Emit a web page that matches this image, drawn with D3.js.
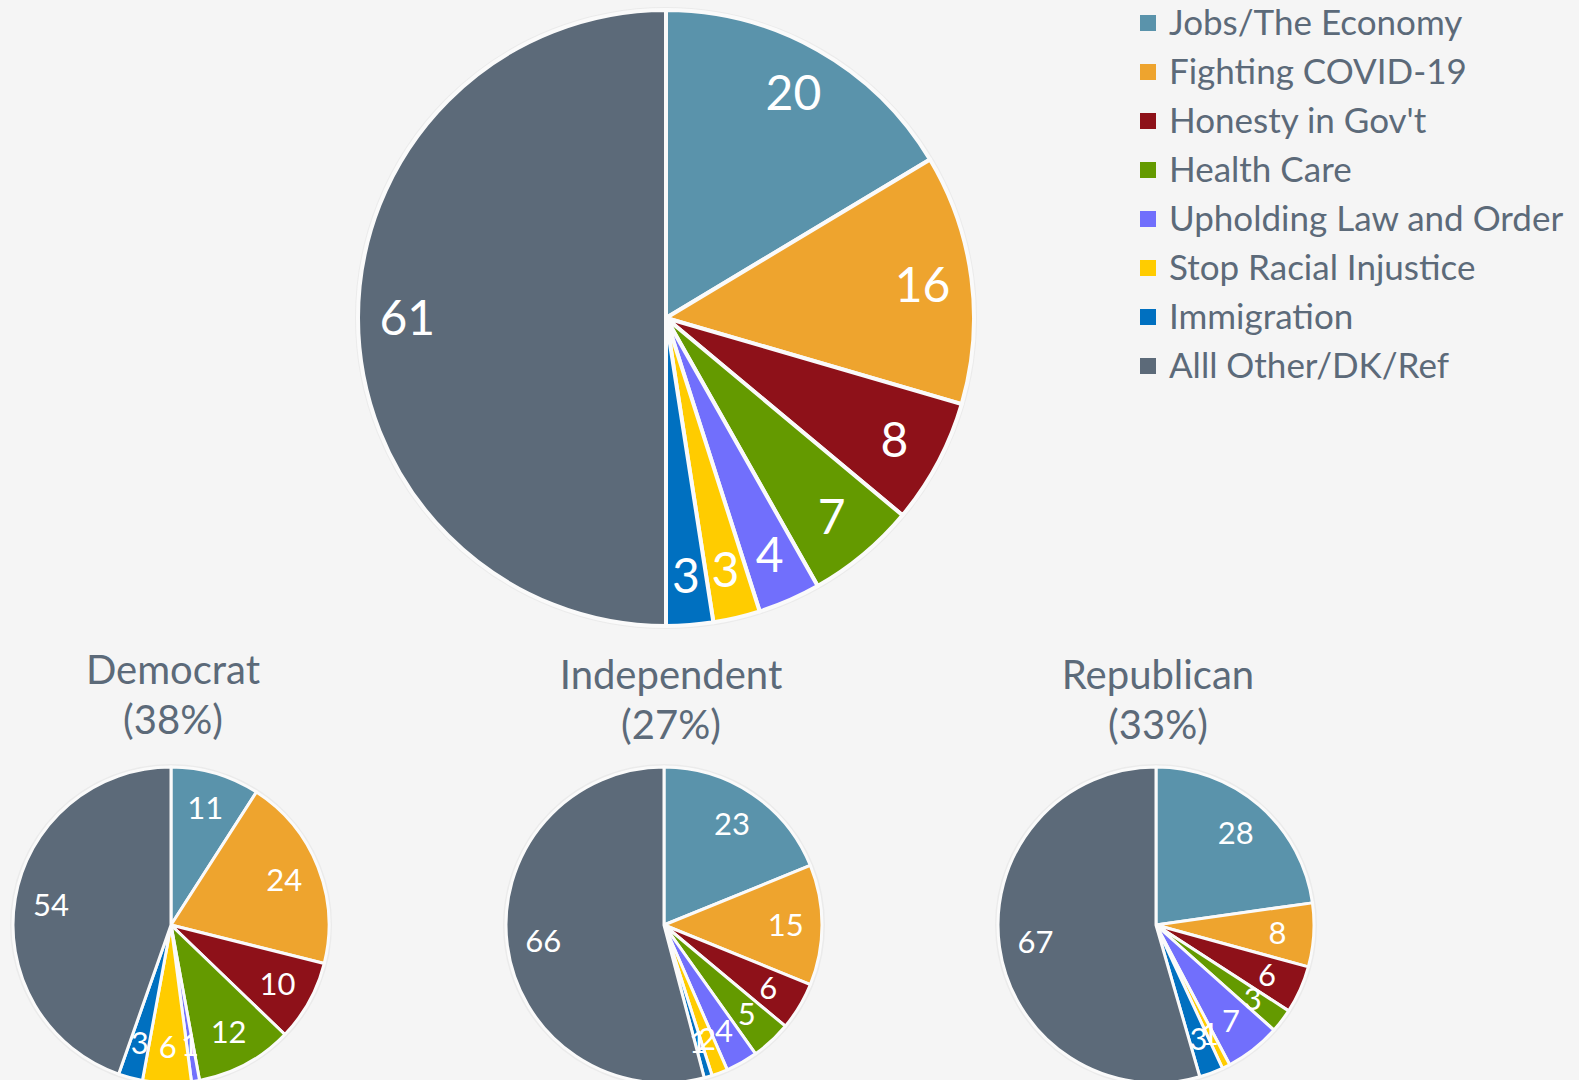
<!DOCTYPE html>
<html>
<head>
<meta charset="utf-8">
<script src="https://cdn.jsdelivr.net/npm/d3@7"></script>
<style>
  body { margin: 0; background: #f5f5f5; }
  svg { display: block; }
  text { font-family: Lato, "Noto Sans", sans-serif; }
</style>
</head>
<body>
<svg id="chart" width="1579" height="1080"></svg>
<script>
// categories and colours
var categories = ["Jobs/The Economy", "Fighting COVID-19", "Honesty in Gov't", "Health Care",
                  "Upholding Law and Order", "Stop Racial Injustice", "Immigration", "Alll Other/DK/Ref"];
var colors = ["#5a93ab", "#eea42e", "#8e1119", "#649a00", "#716ffc", "#ffcc00", "#0070c0", "#5c6a79"];

// values
var total       = [20, 16, 8, 7, 4, 3, 3, 61];
var democrat    = [11, 24, 10, 12, 1, 6, 3, 54];
var independent = [23, 15, 6, 5, 4, 2, 1, 66];
var republican  = [28, 8, 6, 3, 7, 1, 3, 67];

var groupNames = ["Democrat", "Independent", "Republican"];
var groupShares = ["(38%)", "(27%)", "(33%)"];

var svg = d3.select("#chart");
var color = d3.scaleOrdinal().domain(categories).range(colors);
var textColor = "#5c6a79";

var pie = d3.pie().sort(null).value(function(d) { return d.v; });

function drawPie(values, cx, cy, r, strokeW, fontSize, labelR) {
  var g = svg.append("g").attr("transform", "translate(" + cx + "," + cy + ")");
  var data = values.map(function(v, i) { return {cat: categories[i], v: v}; });
  var arcs = pie(data);
  var arc = d3.arc().innerRadius(0).outerRadius(r);
  var labelArc = d3.arc().innerRadius(r * labelR).outerRadius(r * labelR);

  g.append("circle").attr("r", r + 2).attr("fill", "none")
    .attr("stroke", "#ebebeb").attr("stroke-width", 2);

  g.selectAll("path.slice").data(arcs).enter().append("path")
    .attr("class", "slice")
    .attr("d", arc)
    .attr("fill", function(d) { return color(d.data.cat); })
    .attr("stroke", "#fafafa")
    .attr("stroke-width", strokeW)
    .attr("stroke-linejoin", "round");

  g.selectAll("text.lbl").data(arcs).enter().append("text")
    .attr("class", "lbl")
    .attr("transform", function(d) { return "translate(" + labelArc.centroid(d) + ")"; })
    .attr("text-anchor", "middle")
    .attr("dy", "0.36em")
    .attr("fill", "#ffffff")
    .attr("font-size", fontSize)
    .text(function(d) { return d.data.v; });
}

// big pie
drawPie(total, 666, 318, 308, 4, 48, 0.84);

// small pies
var smallX = [171, 664, 1156];
var titleX = [173, 671, 1158];
var smallData = [democrat, independent, republican];
smallData.forEach(function(vals, i) {
  drawPie(vals, smallX[i], 925, 158, 3, 31, 0.77);
  var t = svg.append("text")
    .attr("text-anchor", "middle")
    .attr("fill", textColor)
    .attr("font-size", 40);
  t.append("tspan").attr("x", titleX[i]).attr("y", i === 0 ? 684 : 689).text(groupNames[i]);
  t.append("tspan").attr("x", titleX[i]).attr("y", i === 0 ? 734 : 739).text(groupShares[i]);
});

// legend
var legend = svg.append("g").attr("transform", "translate(1140,23)");
var rows = legend.selectAll("g").data(categories).enter().append("g")
  .attr("transform", function(d, i) { return "translate(0," + (i * 49) + ")"; });
rows.append("rect").attr("x", 0).attr("y", -8).attr("width", 16).attr("height", 16)
  .attr("fill", function(d) { return color(d); });
rows.append("text").attr("x", 29).attr("dy", "0.35em")
  .attr("fill", textColor).attr("font-size", 35)
  .text(function(d) { return d; });
</script>
</body>
</html>
